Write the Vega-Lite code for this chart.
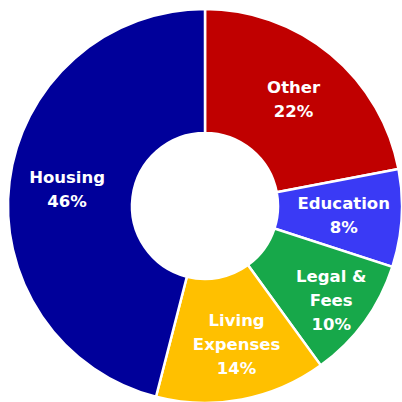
{
  "$schema": "https://vega.github.io/schema/vega-lite/v6.json",
  "width": 394,
  "height": 392,
  "autosize": {"type": "none"},
  "padding": {"left": 8, "top": 10, "right": 0, "bottom": 0},
  "background": "white",
  "config": {"view": {"stroke": null}},
  "data": {
    "values": [
      {"category": "Other", "percent": 22, "ord": 1, "label": "Other\n22%", "lines": 2},
      {"category": "Education", "percent": 8, "ord": 2, "label": "Education\n8%", "lines": 2},
      {"category": "Legal & Fees", "percent": 10, "ord": 3, "label": "Legal &\nFees\n10%", "lines": 3},
      {"category": "Living Expenses", "percent": 14, "ord": 4, "label": "Living\nExpenses\n14%", "lines": 3},
      {"category": "Housing", "percent": 46, "ord": 5, "label": "Housing\n46%", "lines": 2}
    ]
  },
  "encoding": {
    "theta": {"field": "percent", "type": "quantitative", "stack": true},
    "order": {"field": "ord", "type": "quantitative", "sort": "ascending"}
  },
  "layer": [
    {
      "mark": {"type": "arc", "innerRadius": 73, "outerRadius": 197, "stroke": "white", "strokeWidth": 2.5},
      "encoding": {
        "color": {
          "field": "category",
          "type": "nominal",
          "scale": {
            "domain": ["Other", "Education", "Legal & Fees", "Living Expenses", "Housing"],
            "range": ["#C00000", "#3A3AF5", "#17A84A", "#FFC000", "#00009A"]
          },
          "legend": null
        }
      }
    },
    {
      "mark": {"type": "text", "radius": 139, "dy": -11, "lineBreak": "\n", "fontSize": 16.5, "fontWeight": "bold", "font": "DejaVu Sans", "fill": "white", "lineHeight": 24, "align": "center", "baseline": "middle"},
      "encoding": {"text": {"condition": {"test": "datum.lines == 2", "field": "label"}, "value": ""}}
    },
    {
      "mark": {"type": "text", "radius": 156, "dy": -21, "lineBreak": "\n", "fontSize": 16.5, "fontWeight": "bold", "font": "DejaVu Sans", "fill": "white", "lineHeight": 24, "align": "center", "baseline": "middle"},
      "encoding": {"text": {"condition": {"test": "datum.category == 'Legal & Fees'", "field": "label"}, "value": ""}}
    },
    {
      "mark": {"type": "text", "radius": 142, "dx": 5, "dy": -24, "lineBreak": "\n", "fontSize": 16.5, "fontWeight": "bold", "font": "DejaVu Sans", "fill": "white", "lineHeight": 24, "align": "center", "baseline": "middle"},
      "encoding": {"text": {"condition": {"test": "datum.category == 'Living Expenses'", "field": "label"}, "value": ""}}
    }
  ]
}
